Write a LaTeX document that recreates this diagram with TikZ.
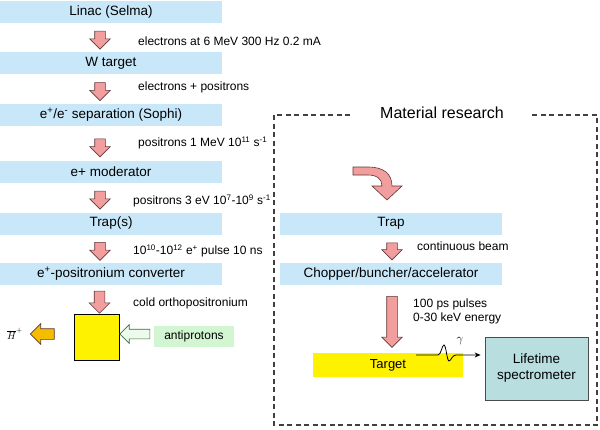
\documentclass[tikz,border=0pt]{standalone}
\usepackage[no-math]{fontspec}
\setmainfont{Liberation Sans}
\usetikzlibrary{shapes.arrows,calc,arrows.meta}

\definecolor{stageblue}{RGB}{200,232,250}
\definecolor{flowpink}{RGB}{242,158,158}
\definecolor{flowline}{RGB}{95,55,55}
\definecolor{pbargreen}{RGB}{210,246,210}
\definecolor{pbarline}{RGB}{60,110,60}
\definecolor{hbargold}{RGB}{245,188,0}
\definecolor{specteal}{RGB}{184,222,224}

\begin{document}
\begin{tikzpicture}[
	x=1pt, y=-1pt,
	every node/.style={font=\fontsize{12}{14}\selectfont},
	stage/.style={fill=stageblue, minimum width=222pt, minimum height=22pt, inner sep=0pt, font=\fontsize{13.5}{15}\selectfont},
	flow/.style={single arrow, draw=flowline, fill=flowpink, line width=0.6pt, rotate=-90, inner sep=5pt, single arrow head extend=5pt, single arrow head indent=0pt, minimum height=18pt},
	note/.style={anchor=west, inner sep=0pt},
	frame/.style={draw=black!75, line width=1.1pt, dash pattern=on 5pt off 3.5pt}
]
\useasboundingbox (0,0) rectangle (600,429);

% positron source chain
\node[stage] (linac) at (111,12) {Linac (Selma)};
\node[stage] (wtarget) at (111,63) {W target};
\node[stage] (sep) at (111,115) {e\textsuperscript{+}/e\textsuperscript{-} separation (Sophi)};
\node[stage] (moder) at (111,171.5) {e+ moderator};
\node[stage] (traps) at (111,223.5) {Trap(s)};
\node[stage] (conv) at (111,274) {e\textsuperscript{+}-positronium converter};

\node[flow] (f1) at ($(linac.south)!.5!(wtarget.north)+(-11,0)$) {};
\node[flow] (f2) at ($(wtarget.south)!.5!(sep.north)+(-11,0)$) {};
\node[flow] (f3) at ($(sep.south)!.5!(moder.north)+(-11,2)$) {};
\node[flow] (f4) at ($(moder.south)!.5!(traps.north)+(-11,0)$) {};
\node[flow] (f5) at ($(traps.south)!.5!(conv.north)+(-11,0)$) {};

\node[note] at (138,41) {electrons at 6 MeV 300 Hz 0.2 mA};
\node[note] at (138,87) {electrons + positrons};
\node[note] at (138,143) {positrons 1 MeV 10\textsuperscript{11} s\textsuperscript{-1}};
\node[note] at (133,201) {positrons 3 eV 10\textsuperscript{7}-10\textsuperscript{9} s\textsuperscript{-1}};
\node[note] at (133,251) {10\textsuperscript{10}-10\textsuperscript{12} e\textsuperscript{+} pulse 10 ns};
\node[note] at (133,303) {cold orthopositronium};

% antihydrogen production
\node[draw=black, line width=0.8pt, fill=yellow, minimum width=45pt, minimum height=46pt, inner sep=0pt] (cell) at (96.5,337) {};
\node[flow, minimum height=22pt, anchor=tip] (f6) at ($(cell.north)+(3,0)$) {};
\node[fill=pbargreen, minimum width=80pt, minimum height=21pt, inner sep=0pt] (pbar) at (194,336.5) {antiprotons};
\node[single arrow, draw=pbarline, fill=pbargreen!40, line width=0.7pt, rotate=180, inner sep=4.5pt, single arrow head extend=4.5pt, single arrow head indent=0pt, minimum height=30pt, anchor=tip] (fp) at ($(cell.east)+(0,-3)$) {};
\node[single arrow, draw=flowline, fill=hbargold, line width=0.7pt, rotate=180, inner sep=5pt, single arrow head extend=5pt, single arrow head indent=0pt, minimum height=24pt] (fh) at (45,334) {};
\node[font=\fontsize{10}{11}\selectfont] (hbar) at (15,334) {$\overline{H}^{+}$};

% material research branch
\draw[frame] (274,115) rectangle (597,425);
\node[fill=white, inner xsep=26pt, font=\fontsize{16}{18}\selectfont] (title) at (442,113) {Material research};

\draw[draw=flowline, fill=flowpink, line width=0.6pt] (353,167) -- (368,167) .. controls (384,167) and (392,174) .. (392,186) -- (402,186) -- (387,200) -- (372,186) -- (382,186) .. controls (382,179) and (377,175) .. (368,175) -- (353,175) -- cycle;

\node[stage] (trapr) at (391,223.5) {Trap};
\node[stage] (chop) at (391,274) {Chopper/buncher/accelerator};
\node[flow, minimum height=17pt] (r1) at ($(trapr.south)!.5!(chop.north)+(1,0)$) {};
\node[note] at (417,246) {continuous beam};

\node[fill=yellow, minimum width=150pt, minimum height=24pt, inner sep=0pt, font=\fontsize{13}{15}\selectfont] (tgt) at (388,365) {Target};
\node[flow, minimum height=51pt, anchor=tip] (r2) at ($(tgt.north)+(4,-5)$) {};
\node[note, align=left] at (413,311) {100 ps pulses\\0-30 keV energy};

\node[draw=black!70, line width=0.8pt, fill=specteal, minimum width=103pt, minimum height=63pt, align=center, font=\fontsize{13.5}{16}\selectfont] (life) at (536.5,368.5) {Lifetime\\spectrometer};

\coordinate (gs) at (416,355);
\coordinate (ge) at ($(life.west)+(-4,-13.5)$);
\draw[line width=0.8pt, -{Stealth[length=6pt,width=5pt]}] (gs) -- (438,355) .. controls (441,355) and (442,345) .. (444,345) .. controls (446,345) and (447,361) .. (449,361) .. controls (451,361) and (452,355) .. (456,355) -- (ge);
\node[font=\fontsize{12}{14}\selectfont] (gam) at (460,341) {$\gamma$};
\end{tikzpicture}
\end{document}
